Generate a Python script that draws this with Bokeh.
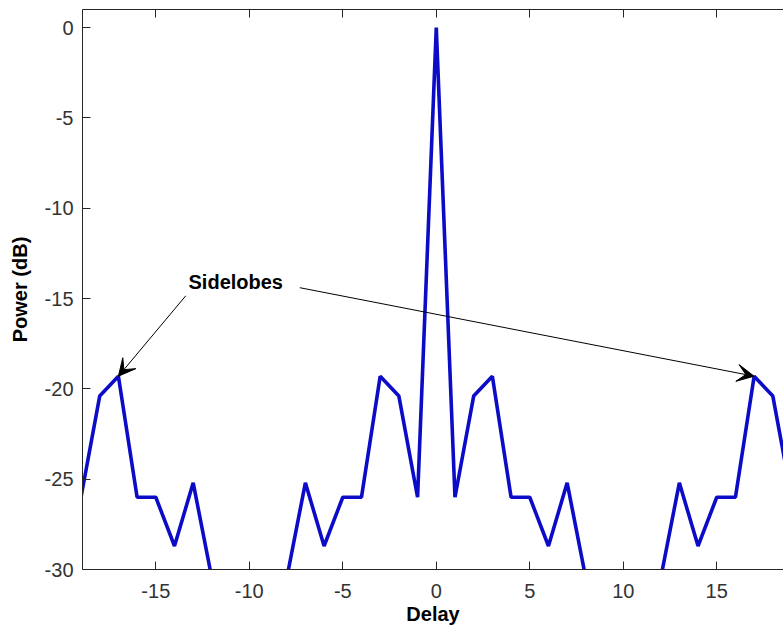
from bokeh.plotting import figure
from bokeh.models import Range1d, LinearAxis, FixedTicker, Arrow, VeeHead, Label, PrintfTickFormatter
from bokeh.embed import file_html
from bokeh.resources import INLINE

# ---- data ----
delay = list(range(-19, 20))
half = [0, -26.0, -20.4, -19.3, -26.0, -26.0, -28.7, -25.2, -30.5, -35.0, -35.0,
        -35.0, -30.5, -25.2, -28.7, -26.0, -26.0, -19.3, -20.4, -26.0]  # delay 0..19
power_db = [half[abs(d)] for d in delay]

x_ticks = [-15, -10, -5, 0, 5, 10, 15]
y_ticks = [-30, -25, -20, -15, -10, -5, 0]

label_text = "Sidelobes"
label_pos = (-13.25, -14.1)
arrow_starts = [(-13.4, -14.85), (-7.3, -14.4)]
arrow_tips = [(-17, -19.3), (17, -19.3)]

FONT = "Liberation Sans"
AXC = "#262626"

p = figure(width=783, height=627, output_backend="svg", toolbar_location=None,
           x_range=Range1d(-18.92, 18.57), y_range=Range1d(-30, 1),
           min_border_left=82, min_border_right=0, min_border_top=9, min_border_bottom=58,
           background_fill_color="white", border_fill_color="white")
p.outline_line_color = None
p.grid.visible = False

p.line(delay, power_db, line_color="#0c0cc8", line_width=3.6)

for ax in (p.xaxis[0], p.yaxis[0]):
    ax.axis_line_color = AXC
    ax.major_tick_line_color = AXC
    ax.major_tick_in = 8
    ax.major_tick_out = 0
    ax.minor_tick_line_color = None
    ax.formatter = PrintfTickFormatter(format="%d")
    ax.major_label_text_font = FONT
    ax.major_label_text_font_size = "20px"
    ax.major_label_text_color = "#333333"
    ax.axis_label_text_font = FONT
    ax.axis_label_text_font_size = "20px"
    ax.axis_label_text_font_style = "bold"
    ax.axis_label_text_color = "black"

p.xaxis[0].ticker = FixedTicker(ticks=x_ticks)
p.yaxis[0].ticker = FixedTicker(ticks=y_ticks)
p.xaxis[0].axis_label = "Delay"
p.yaxis[0].axis_label = "Power (dB)"
p.xaxis[0].major_label_standoff = 14
p.xaxis[0].axis_label_standoff = 2
p.yaxis[0].major_label_standoff = 9
p.yaxis[0].axis_label_standoff = 11

top = LinearAxis(ticker=FixedTicker(ticks=x_ticks), major_label_text_font_size="1px",
                 major_label_text_color=None, major_label_standoff=0,
                 axis_line_color=AXC, major_tick_line_color=AXC,
                 major_tick_in=8, major_tick_out=0, minor_tick_line_color=None)
p.add_layout(top, "above")

p.add_layout(Label(x=label_pos[0], y=label_pos[1], text=label_text, text_font=FONT,
                   text_font_size="20px", text_font_style="bold", text_baseline="middle",
                   text_color="black"))
for (xs, ys), (xe, ye) in zip(arrow_starts, arrow_tips):
    p.add_layout(Arrow(end=VeeHead(size=17, fill_color="black", fill_alpha=1.0,
                                   line_color="black", line_width=1),
                       x_start=xs, y_start=ys, x_end=xe, y_end=ye,
                       line_color="black", line_width=1))

open("out.html", "w").write(file_html(p, INLINE))
